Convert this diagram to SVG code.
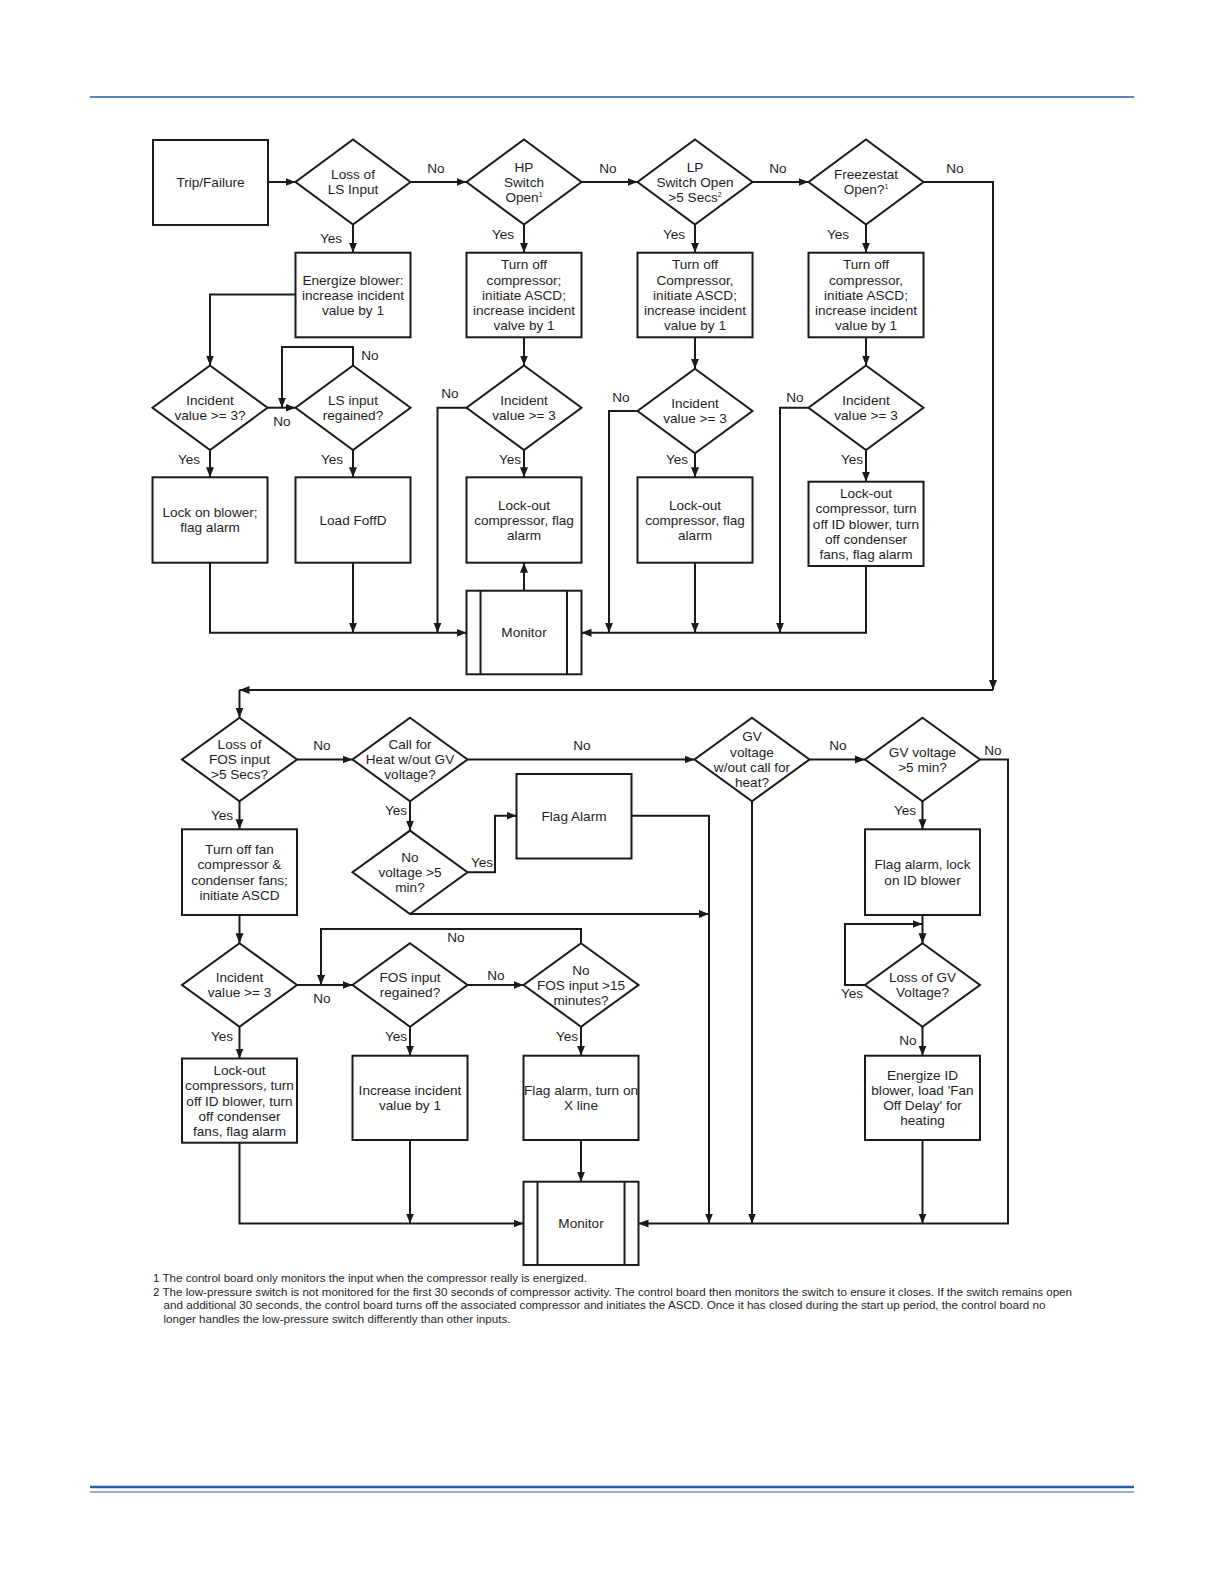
<svg xmlns="http://www.w3.org/2000/svg" width="1224" height="1584" viewBox="0 0 1224 1584">
<defs>
<style>
.b{fill:#fff;stroke:#1a1a1a;stroke-width:2}
.c{fill:none;stroke:#1a1a1a;stroke-width:2}
.t{font-family:"Liberation Sans",Arial,sans-serif;font-size:13.6px;fill:#1e1e1e;text-anchor:middle}
.l{font-family:"Liberation Sans",Arial,sans-serif;font-size:13.6px;fill:#1e1e1e;text-anchor:middle}
.f{font-family:"Liberation Sans",Arial,sans-serif;font-size:10.8px;fill:#1e1e1e}
.s{font-size:7px}
</style>
<marker id="a" markerWidth="10" markerHeight="10" refX="10" refY="5" orient="auto" markerUnits="userSpaceOnUse"><path d="M0,1 L10,5 L0,9 z" fill="#1a1a1a"/></marker>
</defs>
<rect width="1224" height="1584" fill="#fff"/>
<line x1="90" y1="97" x2="1134" y2="97" stroke="#2a5ca8" stroke-width="1.4"/>
<line x1="90" y1="1487" x2="1134" y2="1487" stroke="#2a5ca8" stroke-width="2.5"/>
<line x1="90" y1="1492" x2="1134" y2="1492" stroke="#2a5ca8" stroke-width="1"/>

<g id="connectors" class="c" marker-end="url(#a)">
<path d="M268,182 H295.5"/>
<path d="M410.5,182 H466.5"/>
<path d="M581.5,182 H637.5"/>
<path d="M752.5,182 H808.5"/>
<path d="M923.5,182 H993 V690"/>
<path d="M993,690 H239.5"/>
<path d="M239.5,690 V717.8"/>
<path d="M353,224.5 V252.7"/>
<path d="M524,224.5 V252.7"/>
<path d="M695,224.5 V252.7"/>
<path d="M866,224.5 V252.7"/>
<path d="M295.5,294.5 H210 V365.5"/>
<path d="M267.5,407.7 H295.5"/>
<path d="M353,365.5 V347 H282 V407.7"/>
<path d="M210,450 V477.3"/>
<path d="M353,450 V477.3"/>
<path d="M210,562.7 V632.7 H466.5"/>
<path d="M353,562.7 V632.7"/>
<path d="M524,337.3 V365.5"/>
<path d="M524,450 V477.3"/>
<path d="M524,590.7 V562.7"/>
<path d="M466.5,407.7 H437.5 V632.7"/>
<path d="M695,337.3 V368.8"/>
<path d="M695,453.3 V477.3"/>
<path d="M637.5,411 H609 V632.7"/>
<path d="M695,562.7 V632.7"/>
<path d="M866,337.3 V365.5"/>
<path d="M866,450 V481.7"/>
<path d="M808.5,407.7 H780 V632.7"/>
<path d="M866,566 V632.7 H581.5"/>

<path d="M297,759.5 H352.5"/>
<path d="M467.5,759.5 H694.5"/>
<path d="M809.5,759.5 H865"/>
<path d="M980,759.5 H1008 V1223.5 H638.5"/>
<path d="M239.5,801.2 V829.3"/>
<path d="M410,801.2 V830.6"/>
<path d="M922.5,801.2 V829.3"/>
<path d="M467.5,872.3 H495 V815.7 H516.5"/>
<path d="M631.5,815.7 H709 V1223.5"/>
<path d="M410,914 H709"/>
<path d="M752,801.2 V1223.5"/>
<path d="M239.5,915 V943.3"/>
<path d="M297,985 H352.5"/>
<path d="M467.5,985 H523.5"/>
<path d="M581,943.3 V929 H321 V985"/>
<path d="M239.5,1026.7 V1058.5"/>
<path d="M410,1026.7 V1055.7"/>
<path d="M581,1026.7 V1055.7"/>
<path d="M239.5,1142.7 V1223.5 H523.5"/>
<path d="M410,1140 V1223.5"/>
<path d="M581,1140 V1181.7"/>
<path d="M922.5,915 V943.3"/>
<path d="M865,985 H845 V924 H922.5"/>
<path d="M922.5,1026.7 V1055.7"/>
<path d="M922.5,1140 V1223.5"/>
</g>

<g id="labels" class="l">
<text x="436" y="173">No</text>
<text x="608" y="173">No</text>
<text x="778" y="173">No</text>
<text x="955" y="173">No</text>
<text x="331" y="243">Yes</text>
<text x="503" y="239">Yes</text>
<text x="674" y="239">Yes</text>
<text x="838" y="239">Yes</text>
<text x="370" y="360">No</text>
<text x="282" y="426">No</text>
<text x="450" y="398">No</text>
<text x="621" y="402">No</text>
<text x="795" y="402">No</text>
<text x="189" y="464">Yes</text>
<text x="332" y="464">Yes</text>
<text x="510" y="464">Yes</text>
<text x="677" y="464">Yes</text>
<text x="852" y="464">Yes</text>
<text x="322" y="750">No</text>
<text x="582" y="750">No</text>
<text x="838" y="750">No</text>
<text x="993" y="755">No</text>
<text x="222" y="820">Yes</text>
<text x="396" y="815">Yes</text>
<text x="905" y="815">Yes</text>
<text x="482" y="867">Yes</text>
<text x="456" y="942">No</text>
<text x="496" y="980">No</text>
<text x="322" y="1003">No</text>
<text x="852" y="998">Yes</text>
<text x="222" y="1041">Yes</text>
<text x="396" y="1041">Yes</text>
<text x="567" y="1041">Yes</text>
<text x="908" y="1045">No</text>
</g>

<g id="trip"><rect class="b" x="153" y="140" width="115" height="85"/><text class="t" x="210.5" y="187">Trip/Failure</text></g>
<g id="lossLS"><polygon class="b" points="353,139.5 410.5,182 353,224.5 295.5,182"/><text class="t" x="353" y="179">Loss of</text><text class="t" x="353" y="194">LS Input</text></g>
<g id="hpSwitch"><polygon class="b" points="524,139.5 581.5,182 524,224.5 466.5,182"/><text class="t" x="524" y="171.5">HP</text><text class="t" x="524" y="186.7">Switch</text><text class="t" x="524" y="201.9">Open<tspan class="s" dy="-5">1</tspan></text></g>
<g id="lpSwitch"><polygon class="b" points="695,139.5 752.5,182 695,224.5 637.5,182"/><text class="t" x="695" y="171.5">LP</text><text class="t" x="695" y="186.7">Switch Open</text><text class="t" x="695" y="201.9">&gt;5 Secs<tspan class="s" dy="-5">2</tspan></text></g>
<g id="freezestat"><polygon class="b" points="866,139.5 923.5,182 866,224.5 808.5,182"/><text class="t" x="866" y="179">Freezestat</text><text class="t" x="866" y="194">Open?<tspan class="s" dy="-5">1</tspan></text></g>

<g id="energizeBlower"><rect class="b" x="295.5" y="252.7" width="115" height="84.6"/><text class="t" x="353" y="284.5">Energize blower:</text><text class="t" x="353" y="299.7">increase incident</text><text class="t" x="353" y="314.9">value by 1</text></g>
<g id="hpTurnOff"><rect class="b" x="466.5" y="252.7" width="115" height="84.6"/><text class="t" x="524" y="269.3">Turn off</text><text class="t" x="524" y="284.5">compressor;</text><text class="t" x="524" y="299.7">initiate ASCD;</text><text class="t" x="524" y="314.9">increase incident</text><text class="t" x="524" y="330.1">valve by 1</text></g>
<g id="lpTurnOff"><rect class="b" x="637.5" y="252.7" width="115" height="84.6"/><text class="t" x="695" y="269.3">Turn off</text><text class="t" x="695" y="284.5">Compressor,</text><text class="t" x="695" y="299.7">initiate ASCD;</text><text class="t" x="695" y="314.9">increase incident</text><text class="t" x="695" y="330.1">value by 1</text></g>
<g id="fzTurnOff"><rect class="b" x="808.5" y="252.7" width="115" height="84.6"/><text class="t" x="866" y="269.3">Turn off</text><text class="t" x="866" y="284.5">compressor,</text><text class="t" x="866" y="299.7">initiate ASCD;</text><text class="t" x="866" y="314.9">increase incident</text><text class="t" x="866" y="330.1">value by 1</text></g>

<g id="incidentLS"><polygon class="b" points="210,365.5 267.5,407.7 210,450 152.5,407.7"/><text class="t" x="210" y="404.8">Incident</text><text class="t" x="210" y="420">value &gt;= 3?</text></g>
<g id="lsRegained"><polygon class="b" points="353,365.5 410.5,407.7 353,450 295.5,407.7"/><text class="t" x="353" y="404.8">LS input</text><text class="t" x="353" y="420">regained?</text></g>
<g id="incidentHP"><polygon class="b" points="524,365.5 581.5,407.7 524,450 466.5,407.7"/><text class="t" x="524" y="404.8">Incident</text><text class="t" x="524" y="420">value &gt;= 3</text></g>
<g id="incidentLP"><polygon class="b" points="695,368.8 752.5,411 695,453.3 637.5,411"/><text class="t" x="695" y="408.1">Incident</text><text class="t" x="695" y="423.3">value &gt;= 3</text></g>
<g id="incidentFZ"><polygon class="b" points="866,365.5 923.5,407.7 866,450 808.5,407.7"/><text class="t" x="866" y="404.8">Incident</text><text class="t" x="866" y="420">value &gt;= 3</text></g>

<g id="lockOnBlower"><rect class="b" x="152.5" y="477.3" width="115" height="85.4"/><text class="t" x="210" y="517.1">Lock on blower;</text><text class="t" x="210" y="532.3">flag alarm</text></g>
<g id="loadFoffD"><rect class="b" x="295.5" y="477.3" width="115" height="85.4"/><text class="t" x="353" y="524.7">Load FoffD</text></g>
<g id="lockoutHP"><rect class="b" x="466.5" y="477.3" width="115" height="85.4"/><text class="t" x="524" y="509.5">Lock-out</text><text class="t" x="524" y="524.7">compressor, flag</text><text class="t" x="524" y="539.9">alarm</text></g>
<g id="lockoutLP"><rect class="b" x="637.5" y="477.3" width="115" height="85.4"/><text class="t" x="695" y="509.5">Lock-out</text><text class="t" x="695" y="524.7">compressor, flag</text><text class="t" x="695" y="539.9">alarm</text></g>
<g id="lockoutFZ"><rect class="b" x="808.5" y="481.7" width="115" height="84.3"/><text class="t" x="866" y="498.1">Lock-out</text><text class="t" x="866" y="513.3">compressor, turn</text><text class="t" x="866" y="528.5">off ID blower, turn</text><text class="t" x="866" y="543.7">off condenser</text><text class="t" x="866" y="558.9">fans, flag alarm</text></g>

<g id="monitor1"><rect class="b" x="466.5" y="590.7" width="115" height="83.6"/><line class="c" x1="480.5" y1="590.7" x2="480.5" y2="674.3"/><line class="c" x1="567" y1="590.7" x2="567" y2="674.3"/><text class="t" x="524" y="637.2">Monitor</text></g>

<g id="lossFOS"><polygon class="b" points="239.5,717.8 297,759.5 239.5,801.2 182,759.5"/><text class="t" x="239.5" y="749">Loss of</text><text class="t" x="239.5" y="764.2">FOS input</text><text class="t" x="239.5" y="779.4">&gt;5 Secs?</text></g>
<g id="callHeat"><polygon class="b" points="410,717.8 467.5,759.5 410,801.2 352.5,759.5"/><text class="t" x="410" y="749">Call for</text><text class="t" x="410" y="764.2">Heat w/out GV</text><text class="t" x="410" y="779.4">voltage?</text></g>
<g id="gvNoCall"><polygon class="b" points="752,717.8 809.5,759.5 752,801.2 694.5,759.5"/><text class="t" x="752" y="741.4">GV</text><text class="t" x="752" y="756.6">voltage</text><text class="t" x="752" y="771.8">w/out call for</text><text class="t" x="752" y="787">heat?</text></g>
<g id="gv5min"><polygon class="b" points="922.5,717.8 980,759.5 922.5,801.2 865,759.5"/><text class="t" x="922.5" y="756.6">GV voltage</text><text class="t" x="922.5" y="771.8">&gt;5 min?</text></g>

<g id="turnOffFan"><rect class="b" x="182" y="829.3" width="115" height="85.7"/><text class="t" x="239.5" y="854.1">Turn off fan</text><text class="t" x="239.5" y="869.3">compressor &amp;</text><text class="t" x="239.5" y="884.5">condenser fans;</text><text class="t" x="239.5" y="899.7">initiate ASCD</text></g>
<g id="noVoltage"><polygon class="b" points="410,830.6 467.5,872.3 410,914 352.5,872.3"/><text class="t" x="410" y="861.8">No</text><text class="t" x="410" y="877">voltage &gt;5</text><text class="t" x="410" y="892.2">min?</text></g>
<g id="flagAlarm"><rect class="b" x="516.5" y="774" width="115" height="84.5"/><text class="t" x="574" y="821.2">Flag Alarm</text></g>
<g id="flagLockID"><rect class="b" x="865" y="829.3" width="115" height="85.7"/><text class="t" x="922.5" y="869.3">Flag alarm, lock</text><text class="t" x="922.5" y="884.5">on ID blower</text></g>

<g id="incidentFOS"><polygon class="b" points="239.5,943.3 297,985 239.5,1026.7 182,985"/><text class="t" x="239.5" y="982.1">Incident</text><text class="t" x="239.5" y="997.3">value &gt;= 3</text></g>
<g id="fosRegained"><polygon class="b" points="410,943.3 467.5,985 410,1026.7 352.5,985"/><text class="t" x="410" y="982.1">FOS input</text><text class="t" x="410" y="997.3">regained?</text></g>
<g id="noFOS15"><polygon class="b" points="581,943.3 638.5,985 581,1026.7 523.5,985"/><text class="t" x="581" y="974.5">No</text><text class="t" x="581" y="989.7">FOS input &gt;15</text><text class="t" x="581" y="1004.9">minutes?</text></g>
<g id="lossGV"><polygon class="b" points="922.5,943.3 980,985 922.5,1026.7 865,985"/><text class="t" x="922.5" y="982.1">Loss of GV</text><text class="t" x="922.5" y="997.3">Voltage?</text></g>

<g id="lockoutFOS"><rect class="b" x="182" y="1058.5" width="115" height="84.2"/><text class="t" x="239.5" y="1075.2">Lock-out</text><text class="t" x="239.5" y="1090.4">compressors, turn</text><text class="t" x="239.5" y="1105.6">off ID blower, turn</text><text class="t" x="239.5" y="1120.8">off condenser</text><text class="t" x="239.5" y="1136">fans, flag alarm</text></g>
<g id="increaseIncident"><rect class="b" x="352.5" y="1055.7" width="115" height="84.3"/><text class="t" x="410" y="1095">Increase incident</text><text class="t" x="410" y="1110.2">value by 1</text></g>
<g id="flagXLine"><rect class="b" x="523.5" y="1055.7" width="115" height="84.3"/><text class="t" x="581" y="1095">Flag alarm, turn on</text><text class="t" x="581" y="1110.2">X line</text></g>
<g id="energizeID"><rect class="b" x="865" y="1055.7" width="115" height="84.3"/><text class="t" x="922.5" y="1079.8">Energize ID</text><text class="t" x="922.5" y="1095">blower, load 'Fan</text><text class="t" x="922.5" y="1110.2">Off Delay' for</text><text class="t" x="922.5" y="1125.4">heating</text></g>

<g id="monitor2"><rect class="b" x="523.5" y="1181.7" width="115" height="83.3"/><line class="c" x1="537.5" y1="1181.7" x2="537.5" y2="1265"/><line class="c" x1="624.5" y1="1181.7" x2="624.5" y2="1265"/><text class="t" x="581" y="1228.1">Monitor</text></g>

<g id="footnotes" class="f">
<text x="153" y="1282" textLength="434" lengthAdjust="spacingAndGlyphs">1 The control board only monitors the input when the compressor really is energized.</text>
<text x="153" y="1296" textLength="919" lengthAdjust="spacingAndGlyphs">2 The low-pressure switch is not monitored for the first 30 seconds of compressor activity. The control board then monitors the switch to ensure it closes. If the switch remains open</text>
<text x="163.5" y="1309" textLength="882" lengthAdjust="spacingAndGlyphs">and additional 30 seconds, the control board turns off the associated compressor and initiates the ASCD.  Once it has closed during the start up period, the control board no</text>
<text x="163.5" y="1323" textLength="347" lengthAdjust="spacingAndGlyphs">longer handles the low-pressure switch differently than other inputs.</text>
</g>
</svg>
